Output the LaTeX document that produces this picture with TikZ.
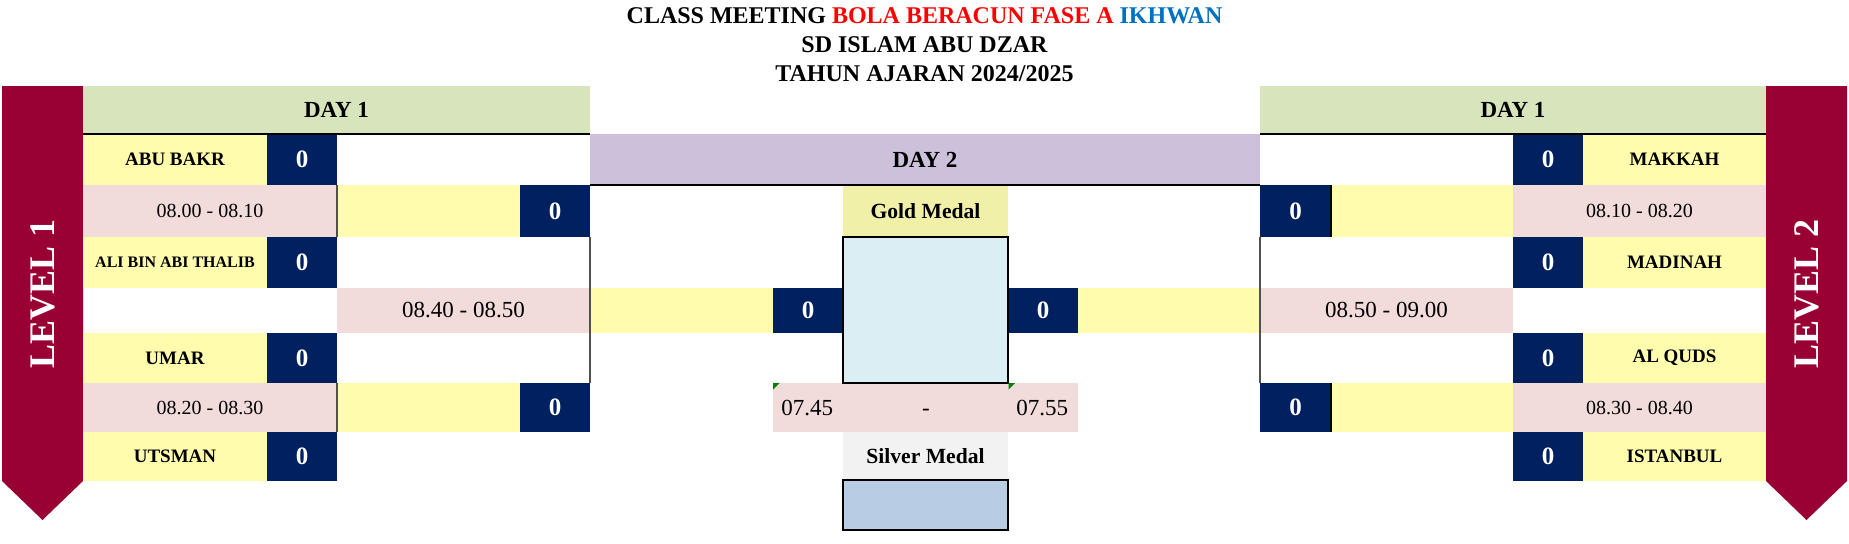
\documentclass[tikz,border=0pt]{standalone}
\usepackage{fontspec}
\setmainfont{Liberation Serif}
\definecolor{cbanner}{HTML}{990033}
\definecolor{cgreen}{HTML}{D8E4BC}
\definecolor{cyel}{HTML}{FFFDAD}
\definecolor{cnavy}{HTML}{002060}
\definecolor{cpink}{HTML}{F2DCDB}
\definecolor{cpurple}{HTML}{CCC0DA}
\definecolor{cgoldlab}{HTML}{F0F0A8}
\definecolor{cgoldbox}{HTML}{DAEEF3}
\definecolor{csilverlab}{HTML}{F2F2F2}
\definecolor{csilverbox}{HTML}{B8CCE4}
\definecolor{cblue}{HTML}{0070C0}
\definecolor{cred}{HTML}{FF0000}
\definecolor{ctri}{HTML}{008000}
\definecolor{cline}{HTML}{505050}
\newcommand\fs[1]{\fontsize{#1}{#1}\selectfont}
\newcommand\mycell[7]{\node[cellbase,#6,minimum width={(#4-#2)*0.5pt},minimum height={(#5-#3)*0.5pt}] (#1) at ({(#2+#4)/2},{(#3+#5)/2}) {#7};}
\begin{document}
\begin{tikzpicture}[x=0.5pt,y=-0.5pt,
  cellbase/.style={inner sep=0pt,outer sep=0pt},
  titletext/.style={inner sep=0pt,font=\bfseries\fs{12}},
  bannertext/.style={inner sep=0pt,text=white,font=\bfseries\fs{18}},
  dayhead/.style={fill=cgreen,font=\bfseries\fs{11.5}},
  dayheadtwo/.style={fill=cpurple,font=\bfseries\fs{11.5}},
  teamname/.style={fill=cyel,font=\bfseries\fs{9.5}},
  score/.style={fill=cnavy,text=white,font=\bfseries\fs{12.5}},
  timesm/.style={fill=cpink,font=\fs{10}},
  timebig/.style={fill=cpink,font=\fs{11.5}},
  timetxt/.style={inner sep=0pt,font=\fs{11.5}},
  yelcell/.style={fill=cyel},
  pinkcell/.style={fill=cpink},
  goldlab/.style={fill=cgoldlab,font=\bfseries\fs{10.8}},
  goldbox/.style={fill=cgoldbox,draw=black,line width=1pt},
  silverlab/.style={fill=csilverlab,font=\bfseries\fs{10.8}},
  silverbox/.style={fill=csilverbox,draw=black,line width=1pt},
  thickline/.style={draw=black,line width=1.1pt},
  thinline/.style={draw=cline,line width=0.6pt},
  darkline/.style={draw=black,line width=0.6pt}]
\useasboundingbox (0,0) rectangle (1849,543);
% title
\node[titletext,anchor=base] (t1) at (924.5,23.5) {CLASS MEETING \textcolor{cred}{BOLA BERACUN FASE A} \textcolor{cblue}{IKHWAN}};
\node[titletext,anchor=base] (t2) at (924.5,52.7) {SD ISLAM ABU DZAR};
\node[titletext,anchor=base] (t3) at (924.5,81.7) {TAHUN AJARAN 2024/2025};
% banners
\fill[cbanner] (2,86) -- (83,86) -- (83,481) -- (42.5,520) -- (2,481) -- cycle;
\node[bannertext,rotate=90] (lv1) at (42.5,294) {LEVEL 1};
\fill[cbanner] (1766,86) -- (1847,86) -- (1847,481) -- (1806.5,520) -- (1766,481) -- cycle;
\node[bannertext,rotate=90] (lv2) at (1807,294) {LEVEL 2};
% left side
\mycell{hL}{83}{86}{590}{134}{dayhead}{DAY 1}
\mycell{nL1}{83}{134}{267}{185}{teamname}{ABU BAKR}
\mycell{sL1}{267}{134}{337}{185}{score}{0}
\mycell{tL2}{83}{185}{337}{237}{timesm}{08.00 - 08.10}
\mycell{yL2}{337}{185}{520}{237}{yelcell}{}
\mycell{sL2}{520}{185}{590}{237}{score}{0}
\mycell{nL3}{83}{237}{267}{288}{teamname,font=\bfseries\fs{8}}{ALI BIN ABI THALIB}
\mycell{sL3}{267}{237}{337}{288}{score}{0}
\mycell{tL4}{337}{288}{590}{333}{timebig}{08.40 - 08.50}
\mycell{yL4}{590}{288}{773}{333}{yelcell}{}
\mycell{sL4}{773}{288}{843}{333}{score}{0}
\mycell{nL5}{83}{333}{267}{383}{teamname}{UMAR}
\mycell{sL5}{267}{333}{337}{383}{score}{0}
\mycell{tL6}{83}{383}{337}{432}{timesm}{08.20 - 08.30}
\mycell{yL6}{337}{383}{520}{432}{yelcell}{}
\mycell{sL6}{520}{383}{590}{432}{score}{0}
\mycell{nL7}{83}{432}{267}{481}{teamname}{UTSMAN}
\mycell{sL7}{267}{432}{337}{481}{score}{0}
% right side
\mycell{hR}{1260}{86}{1766}{134}{dayhead}{DAY 1}
\mycell{sR1}{1513}{134}{1583}{185}{score}{0}
\mycell{nR1}{1583}{134}{1766}{185}{teamname}{MAKKAH}
\mycell{sR2}{1260}{185}{1331}{237}{score}{0}
\mycell{yR2}{1331}{185}{1513}{237}{yelcell}{}
\mycell{tR2}{1513}{185}{1766}{237}{timesm}{08.10 - 08.20}
\mycell{sR3}{1513}{237}{1583}{288}{score}{0}
\mycell{nR3}{1583}{237}{1766}{288}{teamname}{MADINAH}
\mycell{sR4}{1008}{288}{1078}{333}{score}{0}
\mycell{yR4}{1078}{288}{1260}{333}{yelcell}{}
\mycell{tR4}{1260}{288}{1513}{333}{timebig}{08.50 - 09.00}
\mycell{sR5}{1513}{333}{1583}{383}{score}{0}
\mycell{nR5}{1583}{333}{1766}{383}{teamname}{AL QUDS}
\mycell{sR6}{1260}{383}{1331}{432}{score}{0}
\mycell{yR6}{1331}{383}{1513}{432}{yelcell}{}
\mycell{tR6}{1513}{383}{1766}{432}{timesm}{08.30 - 08.40}
\mycell{sR7}{1513}{432}{1583}{481}{score}{0}
\mycell{nR7}{1583}{432}{1766}{481}{teamname}{ISTANBUL}
% centre
\mycell{dtwo}{590}{134}{1260}{185}{dayheadtwo}{DAY 2}
\mycell{gl}{843}{185}{1008}{237}{goldlab}{Gold Medal}
\mycell{tc}{773}{383}{1078}{432}{pinkcell}{}
\node[timetxt,anchor=base west] (ta) at (781,415) {07.45};
\node[timetxt,anchor=base] (tdash) at (926,415) {-};
\node[timetxt,anchor=base west] (tb) at (1016,415) {07.55};
\mycell{slab}{843}{432}{1008}{480}{silverlab}{Silver Medal}
\mycell{gb}{843}{237}{1008}{383}{goldbox}{}
\mycell{sb}{843}{480}{1008}{530}{silverbox}{}
\fill[ctri] (tc.north west) -- ++(6.5,0) -- ++(-6.5,6.5) -- cycle;
\fill[ctri] (gb.south east) ++(0.5,0) -- ++(6.5,0) -- ++(-6.5,6.5) -- cycle;
% border lines
\draw[thickline] (hL.south west) -- (hL.south east);
\draw[thickline] (hR.south west) -- (hR.south east);
\draw[thickline] (dtwo.south west) -- (dtwo.south east);
\draw[thinline] (yL2.north west) -- (yL2.south west);
\draw[thinline] (yL6.north west) -- (yL6.south west);
\draw[thinline] (sL2.south east) -- (sL6.north east);
\draw[thinline] (sR2.south west) -- (sR6.north west);
\draw[darkline] (sR2.north east) -- (sR2.south east);
\draw[darkline] (sR6.north east) -- (sR6.south east);
\end{tikzpicture}
\end{document}
